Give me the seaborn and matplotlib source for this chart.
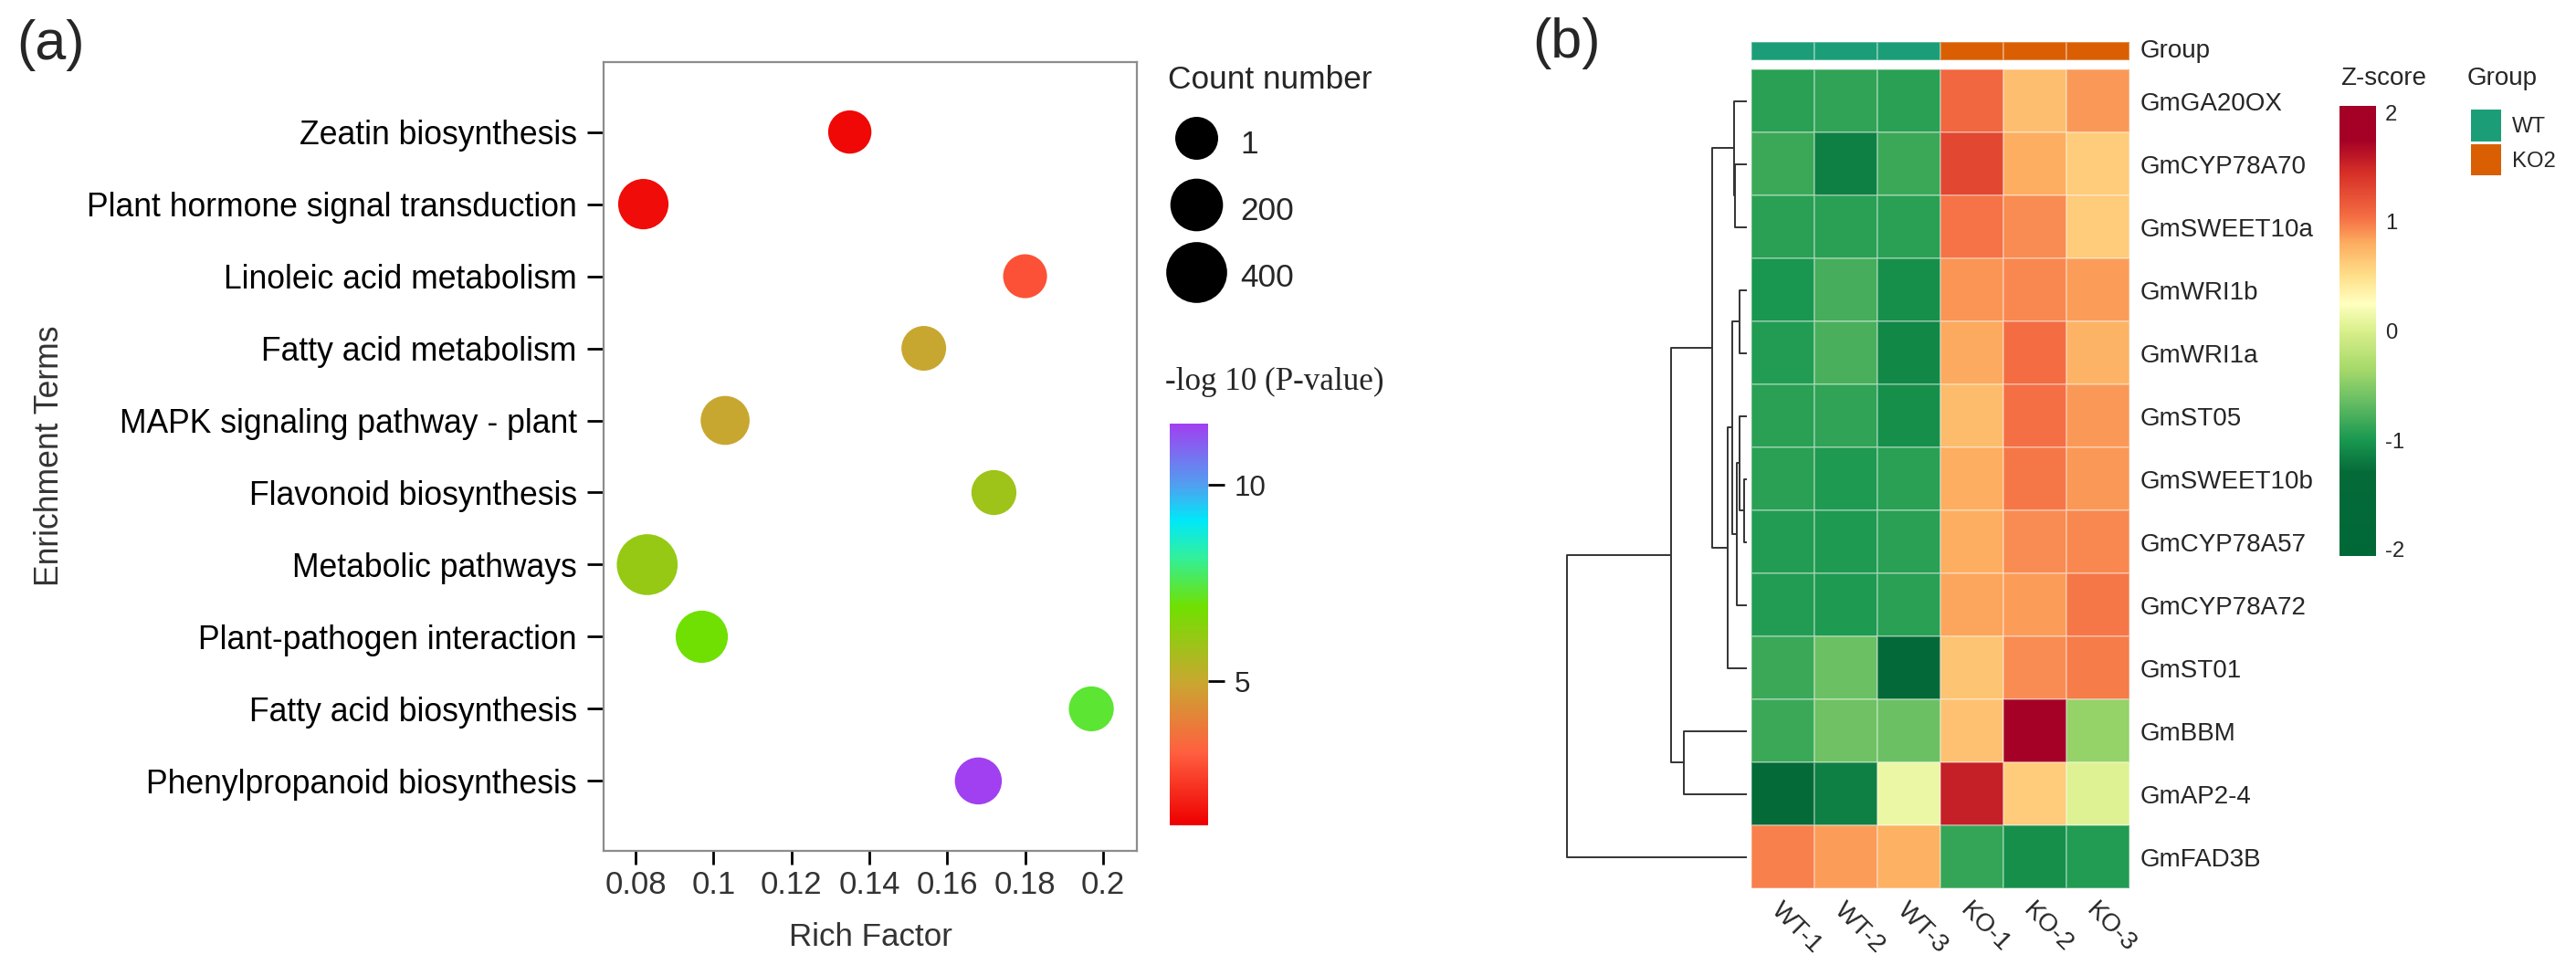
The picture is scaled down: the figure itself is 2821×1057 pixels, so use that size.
import numpy as np
import pandas as pd
import seaborn as sns
import matplotlib.pyplot as plt
from matplotlib.colors import LinearSegmentedColormap, ListedColormap, Normalize
from matplotlib.cm import ScalarMappable
from matplotlib.lines import Line2D

sns.set_style("white")
plt.rcParams["font.family"] = ["Liberation Sans", "DejaVu Sans"]
plt.rcParams["axes.unicode_minus"] = False

# ---------------- panel (a): KEGG bubble chart ----------------
terms = ["Zeatin biosynthesis", "Plant hormone signal transduction",
         "Linoleic acid metabolism", "Fatty acid metabolism",
         "MAPK signaling pathway - plant", "Flavonoid biosynthesis",
         "Metabolic pathways", "Plant-pathogen interaction",
         "Fatty acid biosynthesis", "Phenylpropanoid biosynthesis"]
rich_factor = [0.135, 0.082, 0.180, 0.154, 0.103, 0.172, 0.083, 0.097, 0.197, 0.168]
count = [8, 150, 20, 35, 120, 40, 520, 190, 40, 80]
neg_log_p = [1.5, 1.6, 2.9, 5.0, 5.0, 5.9, 6.1, 6.9, 7.3, 11.56]

rich_ticks = [0.08, 0.10, 0.12, 0.14, 0.16, 0.18, 0.20]
rich_tick_labels = ["0.08", "0.1", "0.12", "0.14", "0.16", "0.18", "0.2"]
count_legend = [1, 200, 400]
p_ticks = [5, 10]

# colour ramp of the -log10(P) scale
p_min, p_max = 1.34, 11.56
p_stops = [1.34, 3.2, 5.0, 6.9, 8.2, 9.1, 10.0, 11.56]
p_colors = ["#EE0000", "#FF6040", "#C8A830", "#70E000", "#30F0A0", "#00E8F8", "#50A0F0", "#A040F0"]

# ---------------- panel (b): z-score heatmap ----------------
genes = ["GmGA20OX", "GmCYP78A70", "GmSWEET10a", "GmWRI1b", "GmWRI1a", "GmST05",
         "GmSWEET10b", "GmCYP78A57", "GmCYP78A72", "GmST01", "GmBBM", "GmAP2-4", "GmFAD3B"]
samples = ["WT-1", "WT-2", "WT-3", "KO-1", "KO-2", "KO-3"]
groups = ["WT", "WT", "WT", "KO2", "KO2", "KO2"]
group_names = ["WT", "KO2"]
group_colors = ["#1B9E77", "#D95F02"]
zscore = [
    [-0.92, -0.90, -0.92, 1.08, 0.70, 0.88],
    [-0.85, -1.15, -0.85, 1.30, 0.80, 0.62],
    [-0.93, -0.92, -0.93, 1.02, 0.93, 0.62],
    [-1.00, -0.80, -1.05, 0.90, 0.94, 0.86],
    [-0.95, -0.78, -1.10, 0.82, 1.06, 0.76],
    [-0.93, -0.90, -1.05, 0.72, 1.03, 0.88],
    [-0.93, -0.98, -0.93, 0.80, 1.00, 0.88],
    [-0.95, -0.97, -0.93, 0.80, 0.93, 0.94],
    [-0.95, -0.97, -0.93, 0.83, 0.86, 1.00],
    [-0.85, -0.62, -1.55, 0.66, 0.93, 0.99],
    [-0.85, -0.60, -0.62, 0.68, 1.85, -0.42],
    [-1.30, -1.15, 0.12, 1.55, 0.62, 0.04],
    [0.98, 0.86, 0.78, -0.88, -1.05, -0.95],
]
z_ticks = [-2, -1, 0, 1, 2]
z_min, z_max = -2.06, 2.06
z_stops = [-2.06, -1.3, -1.0, -0.65, -0.35, 0.0, 0.25, 0.5, 0.8, 1.05, 1.45, 1.75, 2.06]
z_colors = ["#006837", "#046A38", "#1A9850", "#66BD63", "#A6D96A", "#D9EF8B", "#FFFFBF",
            "#FEE08B", "#FDAE61", "#F46D43", "#D73027", "#A50026", "#A50026"]

# row dendrogram: (left, right, height); ints are rows, "mK" is merge K
merges = [
    (1, 2, 0.064),
    (0, "m0", 0.071),
    (3, 4, 0.041),
    (6, 7, 0.015),
    (5, "m3", 0.041),
    ("m4", 8, 0.057),
    ("m2", "m5", 0.083),
    ("m6", 9, 0.107),
    ("m1", "m7", 0.193),
    (10, 11, 0.348),
    ("m8", "m9", 0.423),
    ("m10", 12, 1.0),
]

# ---------------- figure ----------------
W, H, DPI = 2821, 1057, 200


def px_rect(x0, y0, x1, y1):
    return [x0 / W, 1 - y1 / H, (x1 - x0) / W, (y1 - y0) / H]


def ramp(stops, colors, lo, hi, name):
    pos = [(s - lo) / (hi - lo) for s in stops]
    return LinearSegmentedColormap.from_list(name, list(zip(pos, colors)))


p_cmap = ramp(p_stops, p_colors, p_min, p_max, "pval")
p_norm = Normalize(p_min, p_max)
z_cmap = ramp(z_stops, z_colors, z_min, z_max, "zs")

fig = plt.figure(figsize=(W / DPI, H / DPI), dpi=DPI)
fig.patch.set_facecolor("white")

# ---- (a)
ax = fig.add_axes(px_rect(661, 68, 1245, 932))
df_a = pd.DataFrame({"term": terms, "rich": rich_factor, "count": count, "p": neg_log_p})
s_lo, s_hi = 286, 576
sns.scatterplot(data=df_a, x="rich", y="term", hue="p", palette=p_cmap, hue_norm=p_norm,
                size="count", sizes=(s_lo, s_hi), size_norm=(1, 400),
                linewidth=0, legend=False, ax=ax, zorder=3)
ax.set_xlim(0.0718, 0.2087)
ax.set_ylim(len(terms) - 1 + 0.97, -0.97)
ax.set_xticks(rich_ticks)
ax.set_xticklabels(rich_tick_labels)
ax.set_xlabel("")
ax.set_ylabel("")
for sp in ax.spines.values():
    sp.set_color("#8c8c8c")
    sp.set_linewidth(0.8)
ax.tick_params(axis="y", left=True, length=6.5, width=1.0, color="black", pad=4,
               labelsize=12.8, labelcolor="black")
ax.tick_params(axis="x", bottom=True, length=5.4, width=1.0, color="black", pad=2,
               labelsize=12.5, labelcolor="#333333")
fig.text(55 / W, 1 - 499 / H, "Enrichment Terms", rotation=90, ha="center", va="center",
         fontsize=12.8, color="#333333")
fig.text(953 / W, 1 - 1026 / H, "Rich Factor", ha="center", va="center",
         fontsize=12.6, color="#333333")
fig.text(18 / W, 1 - 49 / H, "(a)", ha="left", va="center", fontsize=22)


def size_of(c):
    return s_lo + (s_hi - s_lo) * (c - 1) / 399


handles = [Line2D([], [], linestyle="", marker="o", markersize=np.sqrt(size_of(c)),
                  markerfacecolor="black", markeredgewidth=0) for c in count_legend]
leg = fig.legend(handles, [str(c) for c in count_legend], title="Count number",
                 loc="upper left", bbox_to_anchor=(1279 / W, 1 - 71 / H), frameon=False,
                 fontsize=12.7, title_fontsize=12.7, handlelength=1.76, handleheight=1.5,
                 labelspacing=0.86, handletextpad=0.5, borderpad=0, borderaxespad=0,
                 alignment="left")

cax = fig.add_axes(px_rect(1281, 464, 1323, 904))
cb = fig.colorbar(ScalarMappable(norm=p_norm, cmap=p_cmap), cax=cax, ticks=p_ticks)
cb.outline.set_visible(False)
cax.tick_params(length=6.4, width=1.0, color="black", labelsize=11.3, pad=4)
fig.text(1276 / W, 1 - 418 / H, "-log 10 (P-value)", ha="left", va="center",
         fontsize=12.6, family=["Liberation Serif", "DejaVu Serif"])

# ---- (b)
axh = fig.add_axes(px_rect(1918.5, 76, 2332, 973))
df_z = pd.DataFrame(zscore, index=genes, columns=samples)
sns.heatmap(df_z, ax=axh, cmap=z_cmap, vmin=z_min, vmax=z_max, cbar=False,
            linewidths=0.6, linecolor=(1, 1, 1, 0.3), xticklabels=True, yticklabels=True)
axh.yaxis.tick_right()
axh.tick_params(axis="y", length=0, pad=4.3, labelsize=10, labelrotation=0)
axh.tick_params(axis="x", length=0, pad=4, labelsize=10)
for lab in axh.get_xticklabels():
    lab.set_rotation(-45)
    lab.set_ha("left")
    lab.set_va("top")
    lab.set_rotation_mode("anchor")
axh.set_xlabel("")
axh.set_ylabel("")

group_cmap = ListedColormap(group_colors)
axg = fig.add_axes(px_rect(1918.5, 46, 2332, 66))
codes = pd.DataFrame([[group_names.index(g) for g in groups]], columns=samples)
sns.heatmap(codes, ax=axg, cmap=group_cmap, vmin=-0.5, vmax=1.5,
            cbar=False, xticklabels=False, yticklabels=False,
            linewidths=0.6, linecolor=(1, 1, 1, 0.3))
axg.text(1.029, 0.5, "Group", transform=axg.transAxes, ha="left", va="center", fontsize=10)

axd = fig.add_axes(px_rect(1716, 76, 1913, 973))
pos = {}
for k, (a, b, h) in enumerate(merges):
    ya, ha_ = pos[a] if isinstance(a, str) else (a + 0.5, 0.0)
    yb, hb = pos[b] if isinstance(b, str) else (b + 0.5, 0.0)
    axd.plot([ha_, h, h, hb], [ya, ya, yb, yb], color="#333333", lw=0.7,
             solid_capstyle="butt", clip_on=False)
    pos["m%d" % k] = ((ya + yb) / 2, h)
axd.set_xlim(1.0, 0.0)
axd.set_ylim(len(genes), 0)
axd.axis("off")

cax2 = fig.add_axes(px_rect(2562, 116, 2602, 609))
cb2 = fig.colorbar(ScalarMappable(norm=Normalize(z_min, z_max), cmap=z_cmap), cax=cax2,
                   ticks=z_ticks)
cb2.outline.set_visible(False)
cax2.tick_params(direction="in", color="white", length=4, width=0.8, left=True, right=True,
                 labelleft=False, labelright=True, labelsize=8.6, pad=3.6)
fig.text(2563 / W, 1 - 86 / H, "Z-score", ha="left", va="center", fontsize=10)

# group legend: two coloured keys drawn as a one-column heatmap
axl = fig.add_axes(px_rect(2704, 118, 2740, 193))
keys = pd.DataFrame({"Group": list(range(len(group_names)))}, index=group_names)
sns.heatmap(keys, ax=axl, cmap=group_cmap, vmin=-0.5, vmax=1.5, cbar=False,
            xticklabels=False, yticklabels=True, linewidths=1.0, linecolor="white")
axl.yaxis.tick_right()
axl.tick_params(axis="y", length=0, pad=4, labelsize=8.6, labelrotation=0)
axl.set_ylabel("")
fig.text(2702 / W, 1 - 86 / H, "Group", ha="left", va="center", fontsize=10)
fig.text(1678 / W, 1 - 48 / H, "(b)", ha="left", va="center", fontsize=22)

fig.savefig("out.png", dpi=DPI, facecolor="white")
